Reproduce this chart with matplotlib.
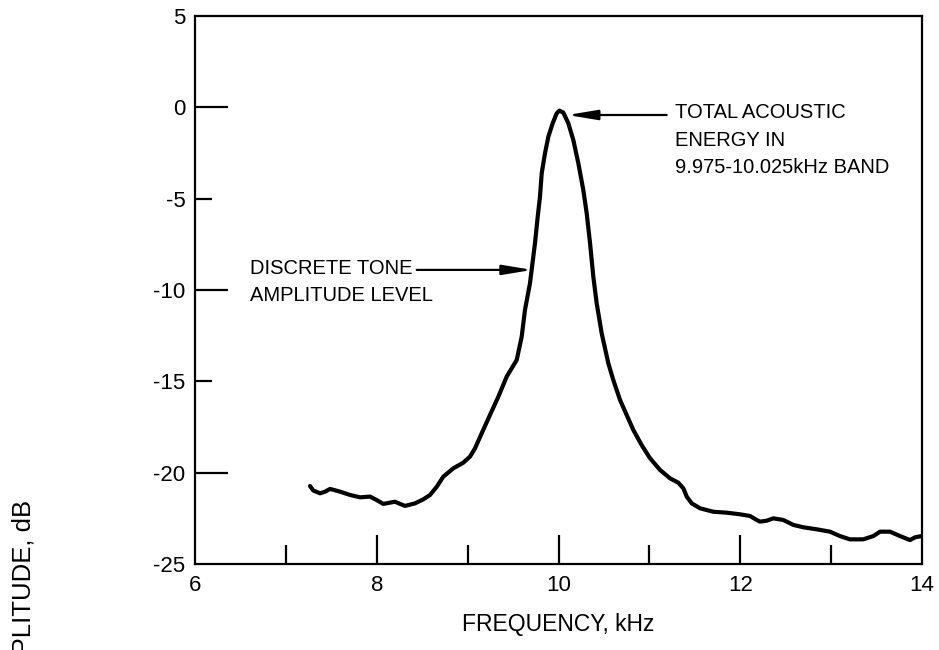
"""Plot discrete tone amplitude vs frequency around the 10 kHz band.
"""
import numpy as np
import matplotlib.pyplot as plt

plt.rcParams['font.family'] = ['Liberation Sans', 'DejaVu Sans']

freq_khz = [7.265, 7.302, 7.376, 7.431, 7.486, 7.596, 7.706, 7.816, 7.926,
            7.999, 8.072, 8.146, 8.201, 8.256, 8.311, 8.421, 8.512, 8.586,
            8.660, 8.732, 8.843, 8.953, 9.026, 9.081, 9.155, 9.246, 9.338,
            9.430, 9.540, 9.595, 9.631, 9.686, 9.741, 9.771, 9.796, 9.815,
            9.851, 9.888, 9.936, 9.980, 10.009, 10.053, 10.108, 10.163,
            10.218, 10.273, 10.310, 10.347, 10.383, 10.420, 10.475, 10.548,
            10.603, 10.677, 10.750, 10.823, 10.915, 11.007, 11.117, 11.227,
            11.319, 11.374, 11.411, 11.466, 11.557, 11.704, 11.851, 11.997,
            12.107, 12.181, 12.217, 12.291, 12.364, 12.474, 12.584, 12.694,
            12.841, 12.987, 13.097, 13.207, 13.354, 13.464, 13.538, 13.648,
            13.758, 13.868, 13.923, 13.997]
amplitude_db = [-20.73, -20.98, -21.13, -21.04, -20.89, -21.04, -21.22,
                -21.35, -21.31, -21.50, -21.71, -21.64, -21.59, -21.71,
                -21.82, -21.68, -21.46, -21.22, -20.77, -20.22, -19.76,
                -19.45, -19.12, -18.67, -17.84, -16.84, -15.84, -14.74,
                -13.83, -12.55, -11.09, -9.63, -7.44, -5.99, -4.89, -3.61,
                -2.52, -1.61, -0.87, -0.33, -0.18, -0.29, -0.87, -1.79,
                -3.06, -4.53, -5.80, -7.44, -9.27, -10.73, -12.37, -14.01,
                -14.93, -16.02, -16.84, -17.66, -18.49, -19.21, -19.85,
                -20.31, -20.55, -20.86, -21.31, -21.68, -21.95, -22.14,
                -22.19, -22.28, -22.37, -22.59, -22.68, -22.63, -22.50,
                -22.59, -22.86, -22.99, -23.10, -23.23, -23.47, -23.65,
                -23.65, -23.47, -23.23, -23.23, -23.47, -23.69, -23.54,
                -23.47]

# axes ticks
x_ticks = [6, 7, 8, 9, 10, 11, 12, 13, 14]
x_tick_labels = ['6', '', '8', '', '10', '', '12', '', '14']
y_ticks = [5, 0, -5, -10, -15, -20, -25]

# annotations
peak_label = ['TOTAL ACOUSTIC', 'ENERGY IN', '9.975-10.025kHz BAND']
tone_label = ['DISCRETE TONE', 'AMPLITUDE LEVEL']

fig = plt.figure(figsize=(9.39, 6.5), dpi=100)
ax = fig.add_axes([0.2077, 0.1323, 0.7742, 0.8431])

ax.plot(freq_khz, amplitude_db, color='black', lw=3.0,
        solid_capstyle='round', solid_joinstyle='round')

ax.set_xlim(6, 14)
ax.set_ylim(-25, 5)

for side in ['left', 'bottom', 'top', 'right']:
    ax.spines[side].set_linewidth(1.6)

# ticks drawn inwards, labels outside
ax.set_xticks(x_ticks)
ax.set_xticklabels(x_tick_labels, fontsize=16)
ax.set_yticks(y_ticks)
ax.set_yticklabels([str(v) for v in y_ticks], fontsize=16)
ax.tick_params(axis='both', direction='in', width=1.6, color='black')
ax.tick_params(axis='x', pad=8)
ax.tick_params(axis='y', pad=7)

# per tick lengths (long at major values, short in between)
for val, tick in zip(x_ticks, ax.xaxis.get_major_ticks()):
    if val in (6, 14):
        size = 0
    elif val % 2 == 0:
        size = 21
    else:
        size = 14
    tick.tick1line.set_markersize(size)
    tick.tick2line.set_visible(False)
for val, tick in zip(y_ticks, ax.yaxis.get_major_ticks()):
    if val in (5, -25):
        size = 0
    elif val % 10 == 0:
        size = 24
    else:
        size = 12
    tick.tick1line.set_markersize(size)
    tick.tick2line.set_visible(False)

ax.set_xlabel('FREQUENCY, kHz', fontsize=16.5, labelpad=12)
# y label runs off the bottom of the page in the original
fig.text(24 / 939, 1 - 500 / 650, 'AMPLITUDE, dB', rotation=90,
         ha='center', va='top', fontsize=18.5)

arrow = dict(arrowstyle='-|>,head_length=1.8,head_width=0.3',
             color='black', lw=1.6, mutation_scale=10, shrinkA=0, shrinkB=0)

# peak annotation
ax.annotate('', xy=(10.10, -0.42), xytext=(11.19, -0.42), arrowprops=arrow)
for i, line in enumerate(peak_label):
    ax.text(11.28, -0.31 - 1.48 * i, line, fontsize=14.5, va='center',
            ha='left')

# discrete tone annotation
ax.annotate('', xy=(9.71, -8.90), xytext=(8.44, -8.90), arrowprops=arrow)
for i, line in enumerate(tone_label):
    ax.text(6.60, -8.80 - 1.52 * i, line, fontsize=14.5, va='center',
            ha='left')

plt.savefig('out.png', dpi=100)
